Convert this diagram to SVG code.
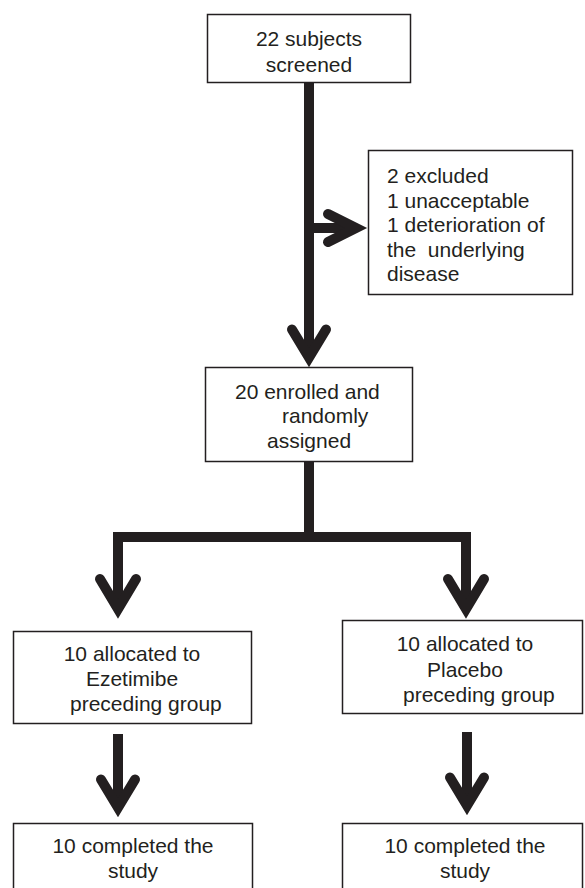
<svg xmlns="http://www.w3.org/2000/svg" width="585" height="888" viewBox="0 0 585 888">
<style>
.box{fill:#fff;stroke:#231f20;stroke-width:1.5}
.t{font-family:"Liberation Sans",Arial,sans-serif;font-size:21px;fill:#231f20}
.m{text-anchor:middle}
.c{fill:none;stroke:#231f20;stroke-width:10;stroke-linejoin:miter;stroke-miterlimit:10}
.h{fill:none;stroke:#231f20;stroke-width:10;stroke-linecap:round;stroke-linejoin:miter;stroke-miterlimit:10}
</style>
<rect x="0" y="0" width="585" height="888" fill="#fff"/>
<g id="connectors">
<path class="c" d="M309,83 V358"/>
<path class="c" d="M309,228 H357"/>
<polyline class="h" points="328,214 356,228 328,242"/>
<polyline class="h" points="292,329.5 309,357.5 326,329.5"/>
<path class="c" d="M309,462 V537 M118,609 V537 H466 V609"/>
<polyline class="h" points="100,579 118,609 136,579"/>
<polyline class="h" points="448,579 466,609 484,579"/>
<path class="c" d="M118,734 V807"/>
<polyline class="h" points="101,779.5 118,807.5 135,779.5"/>
<path class="c" d="M467,732 V805"/>
<polyline class="h" points="450,777.5 467,805.5 484,777.5"/>
</g>
<g id="screened">
<rect class="box" x="207.5" y="14.5" width="203" height="68"/>
<text class="t m" x="309" y="46">22 subjects</text>
<text class="t m" x="309" y="72">screened</text>
</g>
<g id="excluded">
<rect class="box" x="368.5" y="150.5" width="204" height="144"/>
<text class="t" x="387" y="183">2 excluded</text>
<text class="t" x="387" y="207.5">1 unacceptable</text>
<text class="t" x="387" y="232">1 deterioration of</text>
<text class="t" x="387" y="256.5" xml:space="preserve">the  underlying</text>
<text class="t" x="387" y="281">disease</text>
</g>
<g id="enrolled">
<rect class="box" x="205.5" y="367.5" width="207" height="94"/>
<text class="t" x="235" y="399">20 enrolled and</text>
<text class="t" x="282" y="423">randomly</text>
<text class="t" x="267" y="448">assigned</text>
</g>
<g id="ezetimibe">
<rect class="box" x="13.5" y="631.5" width="238" height="92"/>
<text class="t m" x="132" y="661">10 allocated to</text>
<text class="t m" x="132" y="686">Ezetimibe</text>
<text class="t" x="70" y="711">preceding group</text>
</g>
<g id="placebo">
<rect class="box" x="342.5" y="620.5" width="240" height="93"/>
<text class="t m" x="465" y="651">10 allocated to</text>
<text class="t" x="427" y="677">Placebo</text>
<text class="t" x="403" y="702">preceding group</text>
</g>
<g id="completed-ezetimibe">
<rect class="box" x="13.5" y="823.5" width="239" height="80"/>
<text class="t m" x="133" y="853">10 completed the</text>
<text class="t m" x="133" y="878">study</text>
</g>
<g id="completed-placebo">
<rect class="box" x="342.5" y="823.5" width="240" height="80"/>
<text class="t m" x="465" y="853">10 completed the</text>
<text class="t m" x="465" y="878">study</text>
</g>
</svg>
